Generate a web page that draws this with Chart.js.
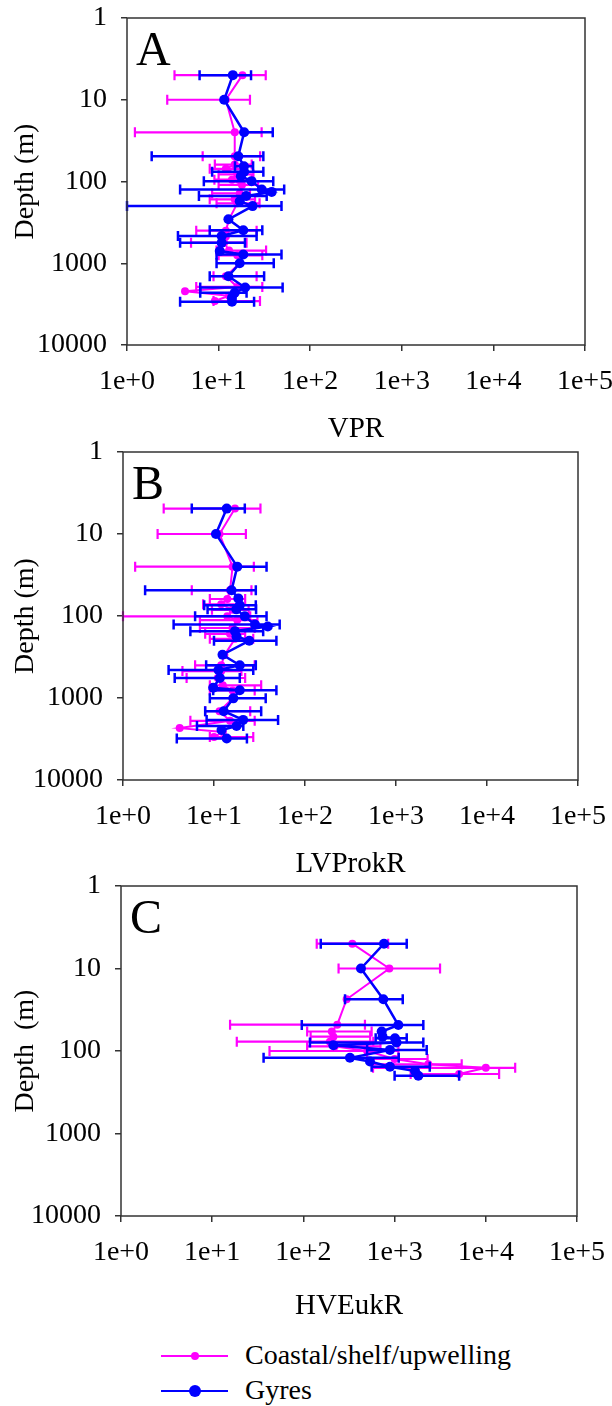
<!DOCTYPE html>
<html>
<head>
<meta charset="utf-8">
<script src="https://cdn.jsdelivr.net/npm/chart.js@4.4.1/dist/chart.umd.min.js"></script>
<style>
  body { margin: 0; background: #fff; }
  #wrap { position: relative; width: 612px; height: 1406px; overflow: hidden; background: #fff; }
  canvas { position: absolute; left: 0; }
  .leg { position: absolute; left: 161px; font: 28px 'Liberation Serif', 'Times New Roman', serif; color: #000; height: 30px; }
  .leg .ln { position: absolute; left: 0; top: 14px; width: 67px; height: 2px; }
  .leg .dot { position: absolute; border-radius: 50%; }
  .leg span { position: absolute; left: 84px; top: -2px; white-space: nowrap; }
</style>
</head>
<body>
<div id="wrap">
  <canvas id="chartA"></canvas>
  <canvas id="chartB"></canvas>
  <canvas id="chartC"></canvas>
  <div class="leg" style="top:1341px"><div class="ln" style="background:#ff00ff"></div><div class="dot" style="background:#ff00ff;left:30px;top:11px;width:8px;height:8px"></div><span>Coastal/shelf/upwelling</span></div>
  <div class="leg" style="top:1376px"><div class="ln" style="background:#0000ff"></div><div class="dot" style="background:#0000ff;left:28px;top:9px;width:12px;height:12px"></div><span>Gyres</span></div>
</div>
<script>
// tick labels
const xTickVals = [1, 10, 100, 1000, 10000, 100000];
const xTickLabels = ['1e+0', '1e+1', '1e+2', '1e+3', '1e+4', '1e+5'];
const yTickVals = [1, 10, 100, 1000, 10000];
const yTickLabels = ['1', '10', '100', '1000', '10000'];

// panel A - VPR
const depthA_gyres = [5, 10, 25, 49, 65, 76, 86, 99, 125, 134, 150, 174, 200, 290, 394, 465, 560, 710, 780, 1000, 1440, 1980, 2300, 2640, 2950];
const valA_gyres = [14.3, 11.5, 19, 16.4, 18.9, 19, 17.5, 22.9, 29.6, 38, 20, 17, 23.5, 12.8, 18.6, 10.8, 10.8, 10.3, 18.6, 17, 12.8, 19.5, 15, 14, 14];
const lowA_gyres = [6.2, null, null, 1.86, 15.1, 8.5, null, 6.9, 3.8, null, 6.1, null, 1.0, null, 8.0, 3.6, 3.8, null, 9.5, 9.5, 8.0, 6.3, 6.3, null, 3.8];
const highA_gyres = [22.6, null, 39, 30.8, 23.8, 30.8, null, 39.5, 52, null, 33.5, null, 48.6, null, 30.0, 26, 19.4, null, 48.6, 40, 31.4, 50, 20.2, null, 24.4];

const depthA_coastal = [5, 10, 25, 49, 62, 70, 82, 95, 110, 140, 165, 185, 290, 400, 470, 560, 700, 800, 1000, 1440, 1950, 2200, 2500, 2900];
const valA_coastal = [18.2, 12, 15, 15, 15, 12, 16, 14, 18, 17, 15, 16, 13, 12, 12, 11.5, 13, 16, 17, 12, 16, 4.3, 13, 9.1];
const lowA_coastal = [3.3, 2.75, 1.22, 6.7, 9.1, 8, 10, 9, 10, 8.5, 8, 9.5, null, 5.7, null, 5.0, 9.5, 10, null, 8.8, 5.7, null, null, 8.8];
const highA_coastal = [32.7, 22, 29.5, 28.4, 23, 19, 24, 23, 27, 22, 25, 28, null, 26, null, 20.2, 33, 30, null, 26, 30, null, null, 28.3];

// panel B - LVProkR
const depthB_gyres = [4.9, 10, 25, 48.6, 61, 74, 83, 101, 127, 134, 153, 178, 200, 297, 398, 455, 570, 750, 805, 1010, 1450, 1850, 2200, 2460, 3120];
const valB_gyres = [13.8, 10.5, 18, 15.6, 18.5, 19.2, 17.6, 21.8, 28.2, 39, 17, 17.7, 24.4, 12.4, 19.2, 11.2, 11.6, 9.8, 19.2, 16.3, 12.8, 20.9, 17.7, 12.1, 13.8];
const lowB_gyres = [5.7, null, null, 1.75, null, 7.8, 8.5, 6.2, 3.6, null, 5.5, null, 10, null, 8.2, 3.17, 3.7, null, 9.8, 9.0, 8, 8.3, 6.5, null, 3.9];
const highB_gyres = [21.8, null, 37.8, 28.8, null, 28.8, 29, 37.8, 52.7, null, 34.7, null, 48.5, null, 28.8, 27, 19.2, null, 48.5, 37, 33, 50.6, 21, null, 23];

const depthB_coastal = [4.9, 10, 25, 48.6, 62, 72, 84, 101, 112, 140, 165, 190, 300, 400, 470, 570, 700, 810, 1010, 1450, 1900, 2330, 2600, 3000];
const valB_coastal = [17, 11.5, 16, 15, 14, 12, 16, 14, 18, 16, 15, 17, 13, 12, 12, 11, 12.5, 16, 16, 11.5, 15, 4.2, 12.5, 10];
const lowB_coastal = [2.8, 2.4, 1.36, 5.7, 9, 7.6, 9.5, 1.0, 7, 7, 8, 9, null, 6.2, 4.5, 5, 9, 9, null, 8, 5.5, null, null, 9];
const highB_coastal = [32.4, 22.4, 27.4, 25.8, 22, 20, 24, 25, 30, 28, 22, 27, null, 28, 20, 22, 33, 28, null, 25, 28, null, null, 27];

// panel C - HVEukR
const depthC_gyres = [5, 10, 23.6, 48.4, 58, 67, 70, 79, 85, 97, 121, 134, 155, 175, 200];
const valC_gyres = [765, 428, 752, 1099, 722, 737, 1010, 1050, 213, 890, 324, 537, 890, 1675, 1820];
const lowC_gyres = [155, null, 286, 96, null, null, 620, 118, null, 500, 36.6, null, 560, null, 1000];
const highC_gyres = [1358, null, 1228, 2065, null, null, 1358, 2065, null, 2249, 1110, null, 2430, null, 5100];

const depthC_coastal = [5, 10, 23.6, 48, 58, 67, 77, 88, 100, 125, 145, 160, 190];
const valC_coastal = [344, 875, 298, 235, 205, 213, 195, 220, 500, 1000, 2340, 10000, 5100];
const lowC_coastal = [140, 243, null, 15.7, 110, 120, 18.6, 110, 42.5, 500, 576, 580, 1500];
const highC_coastal = [850, 3150, null, 473, 560, 540, 584, 700, 1100, 2300, 5440, 21000, 14000];

const SERIF = "'Liberation Serif', 'Times New Roman', serif";
const MAGENTA = '#ff00ff';
const BLUE = '#0000ff';

// draws the horizontal error bars under each dataset
const errorBars = {
    id: 'errorBars',
    beforeDatasetDraw(chart, args) {
        const ds = chart.data.datasets[args.index];
        if (!ds.errLow) return;
        const xs = chart.scales.x, ys = chart.scales.y, ctx = chart.ctx;
        ctx.save();
        ctx.strokeStyle = ds.borderColor;
        ctx.lineWidth = ds.errWidth;
        ds.data.forEach((p, i) => {
            const lo = ds.errLow[i], hi = ds.errHigh[i];
            if (lo == null && hi == null) return;
            const py = ys.getPixelForValue(p.y);
            const x0 = xs.getPixelForValue(lo == null ? p.x : lo);
            const x1 = xs.getPixelForValue(hi == null ? p.x : hi);
            ctx.beginPath();
            ctx.moveTo(x0, py); ctx.lineTo(x1, py);
            if (lo != null) { ctx.moveTo(x0, py - 5); ctx.lineTo(x0, py + 5); }
            if (hi != null) { ctx.moveTo(x1, py - 5); ctx.lineTo(x1, py + 5); }
            ctx.stroke();
        });
        ctx.restore();
    }
};

// box round the plot area + panel letter
const frame = {
    id: 'frame',
    afterDraw(chart, args, opts) {
        const a = chart.chartArea, ctx = chart.ctx;
        ctx.save();
        ctx.strokeStyle = '#333';
        ctx.lineWidth = 1.5;
        ctx.strokeRect(a.left, a.top, a.right - a.left, a.bottom - a.top);
        ctx.fillStyle = '#000';
        ctx.font = '48px ' + SERIF;
        ctx.textBaseline = 'alphabetic';
        ctx.fillText(opts.letter, a.left + 9, a.top + 47);
        ctx.restore();
    }
};

function pts(depths, vals) {
    return depths.map((d, i) => ({x: vals[i], y: d}));
}

function makePanel(id, p) {
    const canvas = document.getElementById(id);
    const h = 18 + p.plotH + p.xAxisH;
    canvas.width = 612;
    canvas.height = h;
    canvas.style.top = (p.top - 18) + 'px';

    new Chart(canvas.getContext('2d'), {
        type: 'scatter',
        data: {
            datasets: [{
                label: 'Gyres',
                data: pts(p.gDepth, p.gVal),
                errLow: p.gLow, errHigh: p.gHigh, errWidth: 2.5,
                showLine: true,
                borderColor: BLUE, backgroundColor: BLUE,
                borderWidth: 2.5, pointRadius: 5, pointBorderWidth: 0
            }, {
                label: 'Coastal/shelf/upwelling',
                data: pts(p.cDepth, p.cVal),
                errLow: p.cLow, errHigh: p.cHigh, errWidth: 2.2,
                showLine: true,
                borderColor: MAGENTA, backgroundColor: MAGENTA,
                borderWidth: 2, pointRadius: 4, pointBorderWidth: 0
            }]
        },
        options: {
            responsive: false,
            animation: false,
            devicePixelRatio: 1,
            layout: { padding: { top: 18, left: 0, right: 612 - p.right, bottom: 0 } },
            plugins: {
                legend: { display: false },
                tooltip: { enabled: false },
                frame: { letter: p.letter }
            },
            scales: {
                x: {
                    type: 'logarithmic', min: 1, max: 100000,
                    afterBuildTicks: s => { s.ticks = xTickVals.map(v => ({value: v})); },
                    afterFit: s => { s.height = p.xAxisH; s.paddingLeft = 0; s.paddingRight = 0; },
                    ticks: {
                        callback: (v, i) => xTickLabels[i],
                        autoSkip: false, maxRotation: 0, padding: 14,
                        color: '#000', font: { family: SERIF, size: 28 }
                    },
                    grid: { drawOnChartArea: false, drawTicks: true, tickLength: 6, color: '#333', lineWidth: 1.5 },
                    border: { display: false },
                    title: { display: true, text: p.xTitle, color: '#000', padding: 0, font: { family: SERIF, size: 29 } }
                },
                y: {
                    type: 'logarithmic', min: 1, max: 10000, reverse: true,
                    afterBuildTicks: s => { s.ticks = yTickVals.map(v => ({value: v})); },
                    afterFit: s => { s.width = p.left; s.paddingTop = 0; s.paddingBottom = 0; },
                    ticks: {
                        callback: (v, i) => yTickLabels[i],
                        autoSkip: false, padding: 14,
                        color: '#000', font: { family: SERIF, size: 28 }
                    },
                    grid: { drawOnChartArea: false, drawTicks: true, tickLength: 6, color: '#333', lineWidth: 1.5 },
                    border: { display: false },
                    title: { display: true, text: p.yTitle, color: '#000', padding: { top: 9, bottom: 0 }, font: { family: SERIF, size: 28 } }
                }
            }
        },
        plugins: [errorBars, frame]
    });
}

makePanel('chartA', {
    letter: 'A', top: 18, left: 127, right: 585, plotH: 327, xAxisH: 102,
    xTitle: 'VPR', yTitle: 'Depth (m)',
    gDepth: depthA_gyres, gVal: valA_gyres, gLow: lowA_gyres, gHigh: highA_gyres,
    cDepth: depthA_coastal, cVal: valA_coastal, cLow: lowA_coastal, cHigh: highA_coastal
});
makePanel('chartB', {
    letter: 'B', top: 452, left: 123, right: 578, plotH: 328, xAxisH: 102,
    xTitle: 'LVProkR', yTitle: 'Depth (m)',
    gDepth: depthB_gyres, gVal: valB_gyres, gLow: lowB_gyres, gHigh: highB_gyres,
    cDepth: depthB_coastal, cVal: valB_coastal, cLow: lowB_coastal, cHigh: highB_coastal
});
makePanel('chartC', {
    letter: 'C', top: 886, left: 121, right: 577, plotH: 330, xAxisH: 108,
    xTitle: 'HVEukR', yTitle: 'Depth  (m)',
    gDepth: depthC_gyres, gVal: valC_gyres, gLow: lowC_gyres, gHigh: highC_gyres,
    cDepth: depthC_coastal, cVal: valC_coastal, cLow: lowC_coastal, cHigh: highC_coastal
});
</script>
</body>
</html>
